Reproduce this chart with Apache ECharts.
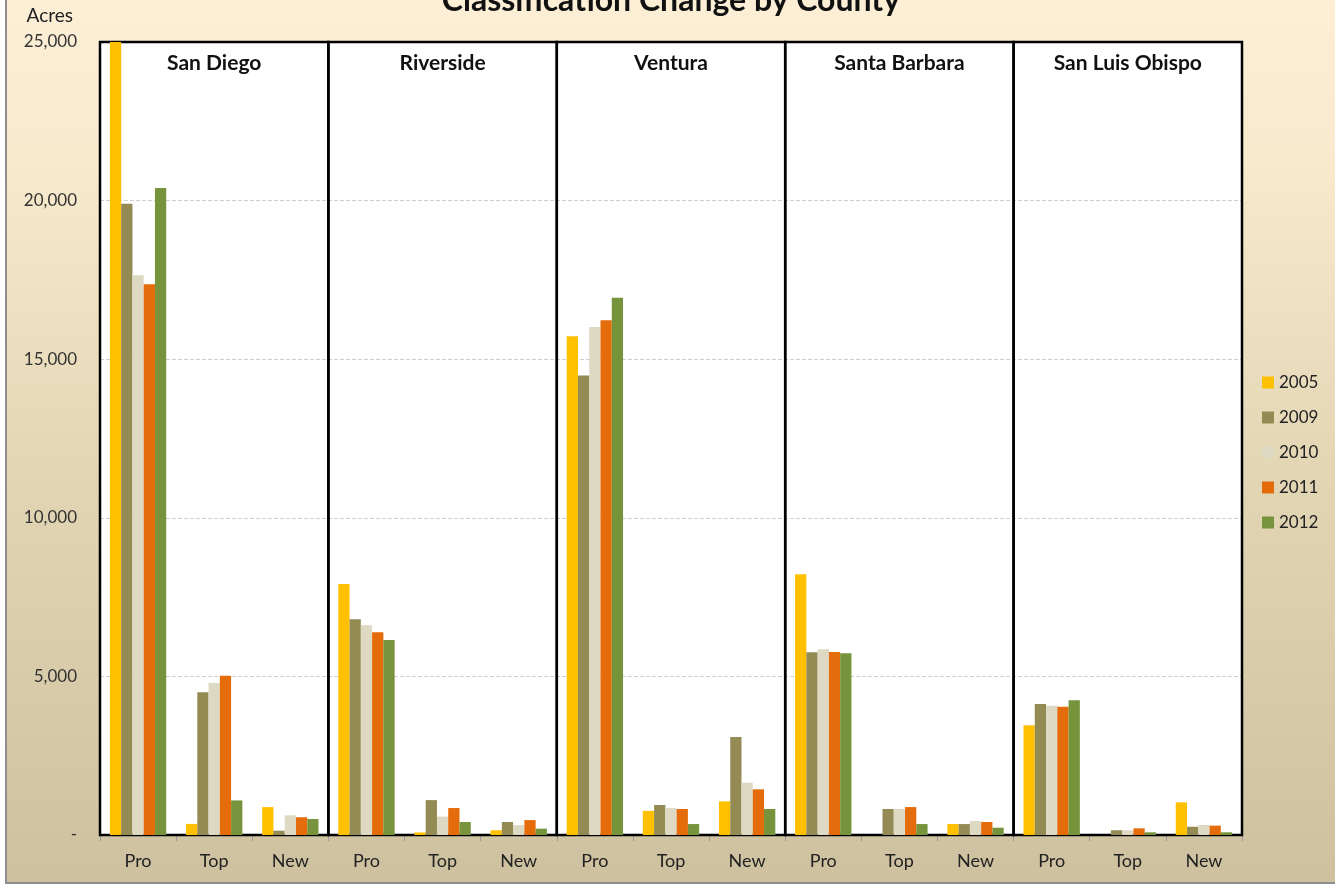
<!DOCTYPE html>
<html>
<head>
<meta charset="utf-8">
<script src="https://cdn.jsdelivr.net/npm/echarts@6/dist/echarts.min.js"></script>
<style>
  html, body { margin: 0; padding: 0; background: #fff; overflow: hidden; }
  #frame {
    position: absolute; left: 5px; top: 0;
    width: 1330px; height: 882px;
    border-left: 2px solid #8e8e8e; border-bottom: 2px solid #8e8e8e;
  }
  #myChart { width: 1328px; height: 882px; }
</style>
</head>
<body>
<div id="frame"><div id="myChart"></div></div>
<script>
// counties (boxes) and the three measures shown under each one
const counties = ['San Diego', 'Riverside', 'Ventura', 'Santa Barbara', 'San Luis Obispo'];
const measures = ['Pro', 'Top', 'New'];
const years = ['2005', '2009', '2010', '2011', '2012'];
const colors = ['#FFC000', '#948A54', '#DDD9C3', '#E46C0A', '#77933C'];

// acres, in the order county x measure
const acres2005 = [25000, 350, 880, 7910, 80, 150, 15720, 760, 1060, 8220, 0, 345, 3460, 0, 1030];
const acres2009 = [19900, 4500, 135, 6800, 1100, 410, 14490, 945, 3090, 5760, 820, 345, 4130, 150, 260];
const acres2010 = [17650, 4790, 620, 6610, 580, 315, 16015, 850, 1650, 5855, 820, 440, 4075, 150, 315];
const acres2011 = [17360, 5020, 560, 6390, 850, 470, 16225, 820, 1440, 5770, 880, 410, 4045, 210, 295];
const acres2012 = [20400, 1090, 505, 6150, 410, 200, 16940, 345, 820, 5730, 345, 230, 4245, 85, 85];
const yTicks = [0, 5000, 10000, 15000, 20000, 25000];

const seriesData = [acres2005, acres2009, acres2010, acres2011, acres2012];

// unique category keys, label shows only the measure
const categories = [];
counties.forEach((c, i) => measures.forEach(m => categories.push(i + '|' + m)));

const font = 'Lato, "Open Sans", sans-serif';

const boxes = counties.map((c, i) => [
  { name: c, coord: [i * 3, yTicks[yTicks.length - 1]] },
  { coord: [i * 3 + 3, 0] },
]);

const myChart = echarts.init(document.getElementById('myChart'));
myChart.setOption({
  backgroundColor: new echarts.graphic.LinearGradient(0, 0, 0, 1, [
    { offset: 0, color: '#FCEFD6' },
    { offset: 0.18, color: '#F8EACD' },
    { offset: 0.55, color: '#E2D5B3' },
    { offset: 1, color: '#CEC19F' },
  ]),
  textStyle: { fontFamily: font },
  animation: false,
  title: {
    text: 'Classification Change by County',
    left: 'center',
    top: -20,
    textStyle: { fontSize: 32, fontWeight: 'bold', color: '#111', fontFamily: font },
  },
  legend: {
    orient: 'vertical',
    left: 1250,
    top: 369,
    itemWidth: 12,
    itemHeight: 12,
    itemGap: 18,
    icon: 'rect',
    data: years,
    textStyle: { fontSize: 17, color: '#222', fontFamily: font },
  },
  grid: {
    left: 93,
    right: 93,
    top: 42,
    bottom: 47,
    outerBoundsMode: 'none',
    show: true,
    backgroundColor: '#fff',
    borderWidth: 0,
  },
  xAxis: [
    {
      type: 'category',
      data: categories,
      axisLine: { show: true, lineStyle: { color: '#999' } },
      axisTick: { show: true, length: 6, lineStyle: { color: '#999' } },
      axisLabel: {
        margin: 17,
        fontSize: 18,
        color: '#222',
        formatter: v => v.split('|')[1],
      },
    },
    { type: 'value', min: 0, max: 15, show: false },
  ],
  yAxis: {
    type: 'value',
    min: 0,
    max: 25000,
    interval: 5000,
    name: 'Acres',
    nameLocation: 'end',
    nameGap: 17,
    nameTextStyle: { fontSize: 19, color: '#222', align: 'right', padding: [0, 27, 0, 0] },
    axisLine: { show: false },
    axisTick: { show: false },
    axisLabel: {
      margin: 23,
      fontSize: 17,
      color: '#333',
      formatter: v => (v === 0 ? '-' : v.toLocaleString('en-US')),
    },
    splitLine: { lineStyle: { type: 'dashed', color: '#cfcfcf' } },
  },
  series: [
    ...years.map((y, i) => ({
      name: y,
      type: 'bar',
      barGap: '0%',
      barCategoryGap: '26%',
      itemStyle: { color: colors[i] },
      data: seriesData[i],
    })),
    {
      name: 'boxes',
      type: 'line',
      xAxisIndex: 1,
      z: 5,
      data: [],
      markArea: {
        silent: true,
        itemStyle: { color: 'rgba(0,0,0,0)', borderColor: '#000', borderWidth: 2.5 },
        label: {
          show: true,
          position: 'insideTop',
          distance: 12,
          fontSize: 21,
          fontWeight: 'bold',
          color: '#111',
        },
        data: boxes,
      },
    },
  ],
});
</script>
</body>
</html>
